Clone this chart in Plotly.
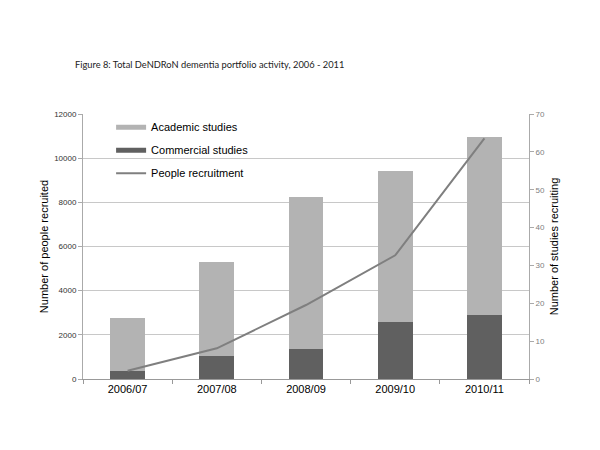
import plotly.graph_objects as go

categories = ["2006/07", "2007/08", "2008/09", "2009/10", "2010/11"]
commercial_studies = [2, 6, 8, 15, 17]
academic_studies = [14, 25, 40, 40, 47]
people_recruited = [370, 1390, 3350, 5600, 10900]
left_ticks = [0, 2000, 4000, 6000, 8000, 10000, 12000]
left_tick_text = ["0", "2000", "4000", "6000", "8000", "10000", "12000"]
right_ticks = [0, 10, 20, 30, 40, 50, 60, 70]

ACAD = "#b3b3b3"
COMM = "#606060"
LINE = "#7f7f7f"

fig = go.Figure()
fig.add_trace(go.Bar(x=categories, y=commercial_studies, name="Commercial studies",
                     marker=dict(color=COMM, line=dict(width=0)), showlegend=False,
                     yaxis="y"))
fig.add_trace(go.Bar(x=categories, y=academic_studies, name="Academic studies",
                     marker=dict(color=ACAD, line=dict(width=0)), showlegend=False,
                     yaxis="y"))
fig.add_trace(go.Scatter(x=categories, y=people_recruited, name="People recruitment",
                         mode="lines", line=dict(color=LINE, width=2), showlegend=False,
                         yaxis="y2"))
# legend entries (swatches drawn as thick lines, like the original)
fig.add_trace(go.Scatter(x=[None], y=[None], name="Academic studies", mode="lines",
                         line=dict(color=ACAD, width=5), legendgroup="g1", yaxis="y2"))
fig.add_trace(go.Scatter(x=[None], y=[None], name="Commercial studies", mode="lines",
                         line=dict(color=COMM, width=5), legendgroup="g2", yaxis="y2"))
fig.add_trace(go.Scatter(x=[None], y=[None], name="People recruitment", mode="lines",
                         line=dict(color=LINE, width=2), legendgroup="g3", yaxis="y2"))

# the page body adds an 8px offset; margins are compensated for it
fig.update_layout(
    width=600, height=450,
    paper_bgcolor="white", plot_bgcolor="white",
    margin=dict(l=75, r=79, t=106, b=79),
    barmode="stack", bargap=0.61,
    font=dict(family="Liberation Sans, Arial", color="#000000"),
    title=dict(text="Figure 8: Total DeNDRoN dementia portfolio activity, 2006 - 2011",
               x=67 / 600, xanchor="left", y=1 - 57 / 450, yanchor="middle",
               font=dict(family="Lato, Open Sans", size=9.3, color="#222222")),
    showlegend=True,
    legend=dict(x=0.063, y=1.005, xanchor="left", yanchor="top", bgcolor="rgba(0,0,0,0)",
                font=dict(size=11, family="Liberation Sans, Arial", color="#000000"),
                itemwidth=30, traceorder="grouped", tracegroupgap=4),
    xaxis=dict(type="category", showline=True, linecolor="#999999", linewidth=1,
               ticks="outside", tickson="boundaries", ticklen=4, tickcolor="#999999",
               tickfont=dict(size=11, color="#000000", family="Liberation Sans, Arial"),
               showgrid=False),
    yaxis=dict(side="right", range=[0, 70], tickvals=right_ticks, showgrid=False,
               showline=True, linecolor="#aaaaaa", ticks="outside", ticklen=4,
               tickcolor="#aaaaaa",
               tickfont=dict(size=8, color="#808080", family="Liberation Sans, Arial"),
               title=dict(text="Number of studies recruiting",
                          font=dict(size=11, family="Liberation Sans, Arial"), standoff=6),
               zeroline=False),
    yaxis2=dict(overlaying="y", side="left", range=[0, 12000], tickvals=left_ticks,
                ticktext=left_tick_text,
                showgrid=True, gridcolor="#c8c8c8", gridwidth=1,
                showline=True, linecolor="#aaaaaa", ticks="outside", ticklen=4,
                tickcolor="#aaaaaa",
                tickfont=dict(size=8, color="#333333", family="Liberation Sans, Arial"),
                title=dict(text="Number of people recruited",
                           font=dict(size=11, family="Liberation Sans, Arial"), standoff=3),
                zeroline=False),
)

fig.write_html("out.html")
